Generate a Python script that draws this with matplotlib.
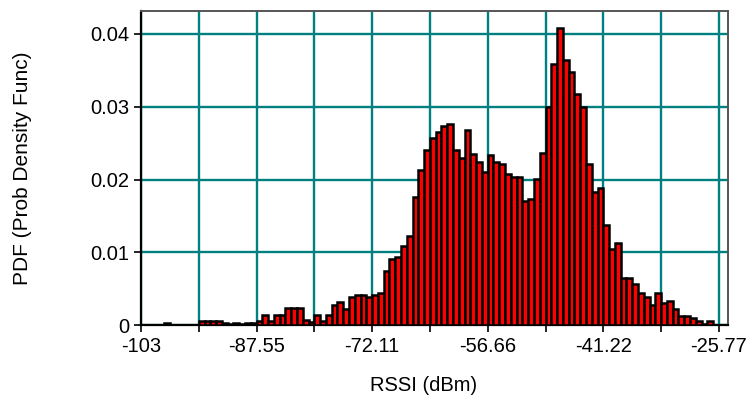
import numpy as np
import matplotlib.pyplot as plt

plt.rcParams['font.family'] = ['Liberation Sans', 'DejaVu Sans']

# histogram range and bin heights (100 bins)
rssi_min, rssi_max = -103.0, -25.77
pdf = [
    0, 0, 0, 0, 0.0003, 0, 0, 0, 0, 0,
    0.0005, 0.0005, 0.0005, 0.0005, 0.0003, 0.0001, 0.0003, 0.0001, 0.0003, 0.0003,
    0.0006, 0.0014, 0.0006, 0.0014, 0.0014, 0.0024, 0.0024, 0.0024, 0.0007, 0.0004,
    0.0014, 0.0005, 0.0014, 0.0027, 0.0031, 0.0022, 0.0039, 0.0041, 0.0041, 0.0038,
    0.0041, 0.0044, 0.0074, 0.0091, 0.0094, 0.0109, 0.0122, 0.0176, 0.0213, 0.0241,
    0.0257, 0.0265, 0.0274, 0.0276, 0.0241, 0.0229, 0.0268, 0.0235, 0.0224, 0.0210,
    0.0233, 0.0224, 0.0221, 0.0208, 0.0204, 0.0204, 0.0171, 0.0173, 0.0201, 0.0237,
    0.0299, 0.0359, 0.0408, 0.0364, 0.0348, 0.0317, 0.0299, 0.0221, 0.0183, 0.0188,
    0.0137, 0.0104, 0.0113, 0.0064, 0.0064, 0.0057, 0.0044, 0.0039, 0.0027, 0.0044,
    0.0030, 0.0033, 0.0022, 0.0013, 0.0013, 0.0010, 0.0005, 0.0001, 0.0005, 0,
]
x_tick_labels = ['-103', '', '-87.55', '', '-72.11', '', '-56.66', '', '-41.22', '', '-25.77']
y_ticks = [0, 0.01, 0.02, 0.03, 0.04]
y_tick_labels = ['0', '0.01', '0.02', '0.03', '0.04']

edges = np.linspace(rssi_min, rssi_max, len(pdf) + 1)
bin_w = edges[1] - edges[0]

fig = plt.figure(figsize=(7.54, 4.13), dpi=100)
ax = fig.add_axes([0.187, 0.213, 0.7785, 0.7604])

ax.bar(edges[:-1], pdf, width=bin_w, align='edge', color='#ff0000',
       edgecolor='black', linewidth=1.8, zorder=3)

x_ticks = np.linspace(rssi_min, rssi_max, len(x_tick_labels))
ax.set_xticks(x_ticks)
ax.set_xticklabels(x_tick_labels)
ax.set_yticks(y_ticks)
ax.set_yticklabels(y_tick_labels)
ax.set_xlim(rssi_min, -24.55)
ax.set_ylim(0, 0.04316)

ax.grid(True, color='#008080', linewidth=1.7, zorder=1)
ax.set_axisbelow(True)
ax.tick_params(axis='both', direction='out', length=5, width=1.2,
               labelsize=14.5, colors='black')

for side in ['left', 'bottom']:
    ax.spines[side].set_color('black')
    ax.spines[side].set_linewidth(1.6)
for side in ['top', 'right']:
    ax.spines[side].set_color('#555555')
    ax.spines[side].set_linewidth(1.4)

ax.set_xlabel('RSSI (dBm)', fontsize=14.5)
ax.set_ylabel('PDF (Prob Density Func)', fontsize=15, labelpad=42)
ax.xaxis.set_label_coords(0.482, -0.162)

fig.savefig('out.png', dpi=100)
